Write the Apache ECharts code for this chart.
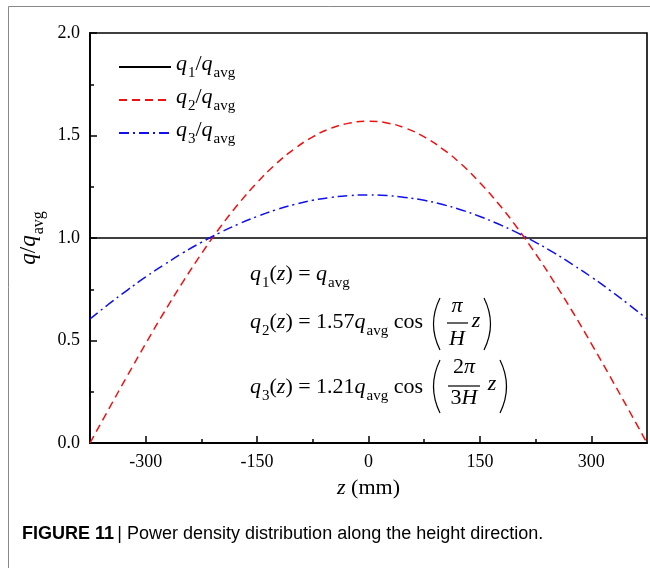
<!DOCTYPE html>
<html>
<head>
<meta charset="utf-8">
<script src="https://cdn.jsdelivr.net/npm/echarts@6/dist/echarts.min.js"></script>
<style>
  html, body { margin: 0; padding: 0; background: #fff; }
  #grafico { width: 650px; height: 568px; }
</style>
</head>
<body>
<div id="grafico"></div>
<script>
// z in mm
var zValues = [-375, -350, -325, -300, -275, -250, -225, -200, -175, -150, -125, -100, -75, -50, -25, 0,
               25, 50, 75, 100, 125, 150, 175, 200, 225, 250, 275, 300, 325, 350, 375];
var q1Values = [1, 1, 1, 1, 1, 1, 1, 1, 1, 1, 1, 1, 1, 1, 1, 1,
                1, 1, 1, 1, 1, 1, 1, 1, 1, 1, 1, 1, 1, 1, 1];
var q2Values = [0, 0.164, 0.326, 0.485, 0.639, 0.785, 0.923, 1.051, 1.167, 1.270, 1.360, 1.434, 1.493, 1.536, 1.561, 1.570,
                1.561, 1.536, 1.493, 1.434, 1.360, 1.270, 1.167, 1.051, 0.923, 0.785, 0.639, 0.485, 0.326, 0.164, 0];
var q3Values = [0.605, 0.677, 0.745, 0.810, 0.870, 0.927, 0.979, 1.026, 1.068, 1.105, 1.137, 1.163, 1.184, 1.198, 1.207, 1.210,
                1.207, 1.198, 1.184, 1.163, 1.137, 1.105, 1.068, 1.026, 0.979, 0.927, 0.870, 0.810, 0.745, 0.677, 0.605];
var seriesNames = ['q1', 'q2', 'q3'];
var xMajorTicks = [-300, -150, 0, 150, 300];
var xMinorTicks = [-225, -75, 75, 225];
var yMinorTicks = [0.25, 0.75, 1.25, 1.75];

var serif = '"Liberation Serif", "Times New Roman", serif';

function pares(vals) {
    var out = [];
    for (var i = 0; i < zValues.length; i++) {
        out.push([zValues[i], vals[i]]);
    }
    return out;
}

// texto rico: italico, normal e subscrito (rebaixado)
function mkRich(size) {
    return {
        i: { fontFamily: serif, fontStyle: 'italic', fontSize: size, color: '#000', verticalAlign: 'bottom', padding: [0, 0, 6, 0] },
        n: { fontFamily: serif, fontSize: size, color: '#000', verticalAlign: 'bottom', padding: [0, 0, 6, 0] },
        s: { fontFamily: serif, fontSize: Math.round(size * 0.68), color: '#000', verticalAlign: 'bottom', padding: [0, 0, 0, 1] }
    };
}
var rich = mkRich(22);
var richEq = mkRich(22);

function eq(x, y, t) {
    return { type: 'text', x: x, y: y, style: { text: t, rich: richEq, fill: '#000', verticalAlign: 'middle' } };
}
function txt(x, y, t, size, italic) {
    return {
        type: 'text', x: x, y: y,
        style: { text: t, fontFamily: serif, fontSize: size || 22, fontStyle: italic ? 'italic' : 'normal',
                 fill: '#000', align: 'center', verticalAlign: 'middle' }
    };
}
function paren(x, y1, y2, dir) {
    return {
        type: 'bezierCurve',
        shape: { x1: x, y1: y1, x2: x, y2: y2, cpx1: x - dir * 13, cpy1: (y1 + y2) / 2 },
        style: { stroke: '#000', lineWidth: 1.2, fill: null }
    };
}
function barra(x1, x2, y) {
    return { type: 'line', shape: { x1: x1, y1: y, x2: x2, y2: y }, style: { stroke: '#000', lineWidth: 1.2 } };
}

var dom = document.getElementById('grafico');
var myChart = echarts.init(dom);

var option = {
    animation: false,
    backgroundColor: '#fff',
    grid: { left: 90, top: 33, right: 3, bottom: 125, show: true, borderColor: '#000', borderWidth: 1.6 },
    legend: {
        orient: 'vertical', left: 113, top: 48, itemWidth: 52, itemHeight: 12, itemGap: 5,
        data: seriesNames,
        itemStyle: { opacity: 0 },
        formatter: function (name) {
            return '{i|q}{s|' + name.charAt(1) + '}{n|/}{i|q}{s|avg}';
        },
        textStyle: { rich: rich }
    },
    xAxis: [{
        type: 'value', min: -375, max: 375,
        name: '{i|z}{n| (mm)}', nameLocation: 'middle', nameGap: 34,
        nameTextStyle: { rich: mkRich(22) },
        axisLine: { onZero: false, lineStyle: { color: '#000', width: 1.8 } },
        axisTick: { inside: true, length: 7, customValues: xMajorTicks, lineStyle: { color: '#000', width: 1.5 } },
        axisLabel: { customValues: xMajorTicks, margin: 10, fontFamily: serif, fontSize: 18, color: '#000' },
        splitLine: { show: false }
    }, {
        type: 'value', min: -375, max: 375, position: 'bottom',
        axisLine: { show: false, onZero: false },
        axisTick: { inside: true, length: 4, customValues: xMinorTicks, lineStyle: { color: '#000', width: 1.5 } },
        axisLabel: { show: false },
        splitLine: { show: false }
    }],
    yAxis: [{
        type: 'value', min: 0, max: 2, interval: 0.5,
        name: '{i|q}{n|/}{i|q}{s|avg}', nameLocation: 'middle', nameGap: 40, nameRotate: 90,
        nameTextStyle: { rich: mkRich(23) },
        axisLine: { show: true, onZero: false, lineStyle: { color: '#000', width: 1.8 } },
        axisTick: { show: true, inside: true, length: 7, lineStyle: { color: '#000', width: 1.5 } },
        axisLabel: { margin: 10, fontFamily: serif, fontSize: 18, color: '#000',
                     formatter: function (v) { return v.toFixed(1); } },
        splitLine: { show: false }
    }, {
        type: 'value', min: 0, max: 2, position: 'left',
        axisLine: { show: false, onZero: false },
        axisTick: { show: true, inside: true, length: 4, customValues: yMinorTicks, lineStyle: { color: '#000', width: 1.5 } },
        axisLabel: { show: false },
        splitLine: { show: false }
    }],
    series: [{
        name: 'q1', type: 'line', showSymbol: false, symbol: 'none',
        lineStyle: { color: '#000', width: 1.5 }, itemStyle: { color: '#000' },
        data: pares(q1Values)
    }, {
        name: 'q2', type: 'line', showSymbol: false, symbol: 'none', smooth: true,
        lineStyle: { color: '#ee1111', width: 1.5, type: [8, 5] }, itemStyle: { color: '#ee1111' },
        data: pares(q2Values)
    }, {
        name: 'q3', type: 'line', showSymbol: false, symbol: 'none', smooth: true,
        lineStyle: { color: '#1010ee', width: 1.5, type: [10, 4, 2, 4] }, itemStyle: { color: '#1010ee' },
        data: pares(q3Values)
    }],
    graphic: [
        // moldura cinza da figura
        { type: 'line', shape: { x1: 8.5, y1: 6.5, x2: 650, y2: 6.5 }, style: { stroke: '#888', lineWidth: 1 } },
        { type: 'line', shape: { x1: 8.5, y1: 6.5, x2: 8.5, y2: 568 }, style: { stroke: '#888', lineWidth: 1 } },
        // equacoes
        eq(250, 277, '{i|q}{s|1}{n|(}{i|z}{n|) = }{i|q}{s|avg}'),
        eq(250, 325, '{i|q}{s|2}{n|(}{i|z}{n|) = 1.57}{i|q}{s|avg}{n| cos}'),
        paren(440, 298, 350, 1),
        txt(457, 306, 'π', 22, true),
        barra(447, 468, 323),
        txt(457, 339, 'H', 22, true),
        txt(476, 321, 'z', 22, true),
        paren(484, 298, 350, -1),
        eq(250, 390, '{i|q}{s|3}{n|(}{i|z}{n|) = 1.21}{i|q}{s|avg}{n| cos}'),
        paren(440, 360, 413, 1),
        { type: 'text', x: 464, y: 370, style: { text: '{n|2}{i|π}', rich: mkRich(22), align: 'center', verticalAlign: 'middle' } },
        barra(448, 480, 386),
        { type: 'text', x: 464, y: 401, style: { text: '{n|3}{i|H}', rich: mkRich(22), align: 'center', verticalAlign: 'middle' } },
        txt(492, 384, 'z', 22, true),
        paren(500, 360, 413, -1),
        // legenda da figura
        {
            type: 'text', left: 22, top: 525,
            style: {
                text: '{b|FIGURE 11} {n|| Power density distribution along the height direction.}',
                rich: {
                    b: { fontFamily: '"Liberation Sans", Arial, sans-serif', fontWeight: 'bold', fontSize: 18, color: '#111' },
                    n: { fontFamily: '"Liberation Sans", Arial, sans-serif', fontSize: 18, color: '#111' }
                }
            }
        }
    ]
};

if (option && typeof option === 'object') {
    myChart.setOption(option, true);
}
</script>
</body>
</html>
